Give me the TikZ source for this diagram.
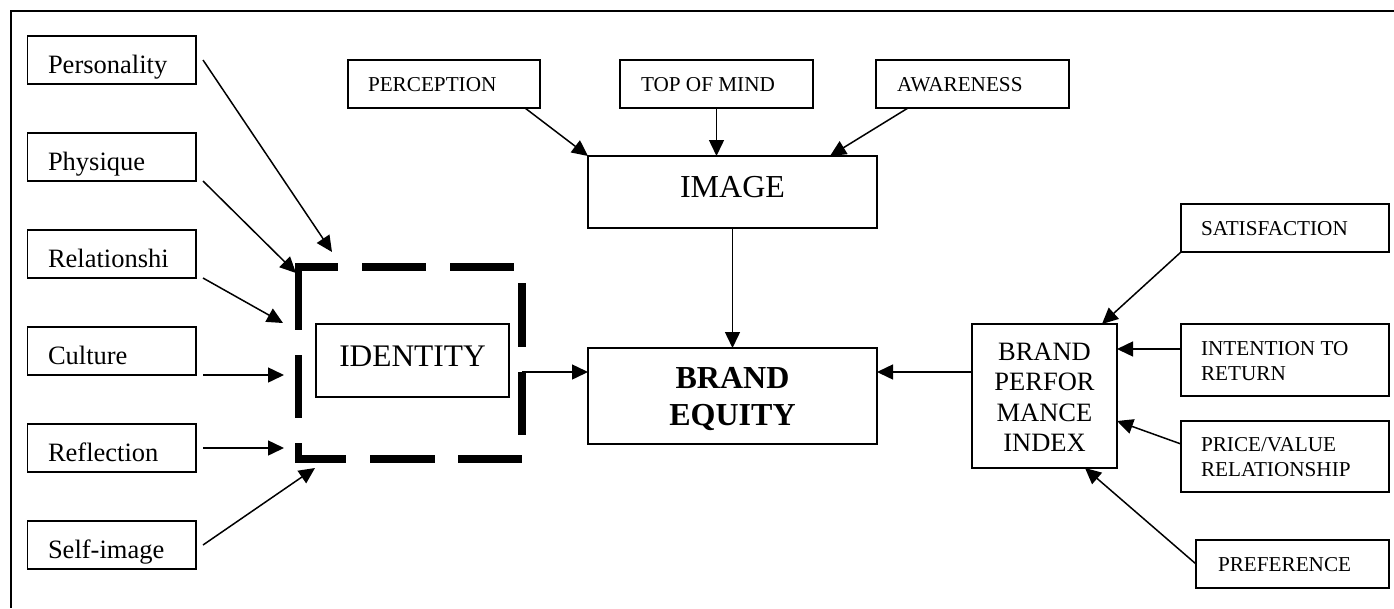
\documentclass[tikz,border=0pt]{standalone}
\usepackage{fontspec}
\setmainfont{Liberation Serif}
\usetikzlibrary{arrows.meta}
\begin{document}
\begin{tikzpicture}[x=1pt,y=-1pt,
  box/.style={draw,line width=1.5pt,inner sep=0pt,outer sep=0pt,anchor=north west},
  lbl/.style={inner sep=0pt,outer sep=0pt,anchor=base west},
  clbl/.style={inner sep=0pt,outer sep=0pt,anchor=base},
  arr/.style={line width=1.5pt,-{Triangle[length=16pt,width=15pt]}},
  dashseg/.style={line width=7.5pt,line cap=butt},
  fL/.style={font=\fontsize{26.5}{30}\selectfont},
  fS/.style={font=\fontsize{21.2}{25}\selectfont},
  fXL/.style={font=\fontsize{32}{37}\selectfont},
  fXB/.style={font=\fontsize{32}{37}\selectfont\bfseries}]
\useasboundingbox (0,0) rectangle (1394,608);
% outer frame (top and left visible)
\draw[line width=1.5pt] (1394,11) -- (11,11) -- (11,608);

% left boxes
\node[box,minimum width=168.5pt,minimum height=48pt] (pers) at (27.5,36) {};
\node[box,minimum width=168.5pt,minimum height=48pt] (phys) at (27.5,133) {};
\node[box,minimum width=168.5pt,minimum height=48pt] (rel)  at (27.5,230) {};
\node[box,minimum width=168.5pt,minimum height=48pt] (cul)  at (27.5,327) {};
\node[box,minimum width=168.5pt,minimum height=48pt] (refl) at (27.5,424) {};
\node[box,minimum width=168.5pt,minimum height=48pt] (self) at (27.5,521) {};
\node[lbl,fL] (tpers) at (48,73)  {Personality};
\node[lbl,fL] (tphys) at (48,170) {Physique};
\node[lbl,fL] (trel)  at (48,267) {Relationshi};
\node[lbl,fL] (tcul)  at (48,364) {Culture};
\node[lbl,fL] (trefl) at (48,461) {Reflection};
\node[lbl,fL] (tself) at (48,558) {Self-image};

% identity with thick dashed frame
\node[inner sep=0pt,outer sep=0pt,anchor=north west,minimum width=223.5pt,minimum height=192pt] (idbox) at (298.5,267) {};
\draw[dashseg] (295,267) -- (338,267) (362,267) -- (426,267) (450,267) -- (514,267);
\draw[dashseg] (298.5,263) -- (298.5,330) (298.5,355) -- (298.5,418) (298.5,443) -- (298.5,463);
\draw[dashseg] (295,459) -- (346,459) (370,459) -- (434.5,459) (458,459) -- (522,459);
\draw[dashseg] (522,283) -- (522,347) (522,372) -- (522,435);
\node[box,minimum width=193pt,minimum height=73pt] (ident) at (316,324) {};
\node[clbl,font=\fontsize{31.4}{36}\selectfont] (tident) at (412.5,366) {IDENTITY};

% top boxes
\node[box,minimum width=192pt,minimum height=48pt] (perc) at (348,60) {};
\node[box,minimum width=193pt,minimum height=48pt] (topm) at (620,60) {};
\node[box,minimum width=193pt,minimum height=48pt] (aw)   at (876,60) {};
\node[lbl,fS] (tperc) at (368,91) {PERCEPTION};
\node[lbl,fS] (ttopm) at (641,91) {TOP OF MIND};
\node[lbl,fS] (taw)   at (897,91) {AWARENESS};

% image and brand equity
\node[box,minimum width=289pt,minimum height=72pt] (img) at (588,156) {};
\node[clbl,fXL] (timg) at (732.5,197) {IMAGE};
\node[box,minimum width=289pt,minimum height=96pt] (be) at (588,348) {};
\node[clbl,fXB] (tbe1) at (732.5,388) {BRAND};
\node[clbl,fXB] (tbe2) at (732.5,425) {EQUITY};

% brand performance index
\node[box,minimum width=145pt,minimum height=144pt] (bpi) at (972,324) {};
\node[clbl,fL] (tbpi1) at (1044.5,360) {BRAND};
\node[clbl,fL] (tbpi2) at (1044.5,390.5) {PERFOR};
\node[clbl,fL] (tbpi3) at (1044.5,421) {MANCE};
\node[clbl,fL] (tbpi4) at (1044.5,451) {INDEX};

% right boxes
\node[box,minimum width=208pt,minimum height=48pt] (sat)   at (1181,204) {};
\node[box,minimum width=208pt,minimum height=72pt] (intr)  at (1181,324) {};
\node[box,minimum width=208pt,minimum height=71pt] (price) at (1181,421) {};
\node[box,minimum width=193pt,minimum height=48pt] (pref)  at (1196,540) {};
\node[lbl,fS] (tsat)    at (1201,235) {SATISFACTION};
\node[lbl,fS] (tintr1)  at (1201,355) {INTENTION TO};
\node[lbl,fS] (tintr2)  at (1201,380) {RETURN};
\node[lbl,fS] (tprice1) at (1201,451) {PRICE/VALUE};
\node[lbl,fS] (tprice2) at (1201,476) {RELATIONSHIP};
\node[lbl,fS] (tpref)   at (1218,571) {PREFERENCE};

% arrow end points
\coordinate (ePers) at (332,252);
\coordinate (ePhys) at (296,273);
\coordinate (eRel)  at (283,323);
\coordinate (eCul)  at (284,375);
\coordinate (eRefl) at (284,448);
\coordinate (eSelf) at (315,468);
\coordinate (idOut) at (522,372);

% identity inputs
\draw[arr] ([xshift=7pt]pers.east) -- (ePers);
\draw[arr] ([xshift=7pt]phys.south east) -- (ePhys);
\draw[arr] ([xshift=7pt]rel.south east) -- (eRel);
\draw[arr] ([xshift=7pt]cul.south east) -- (eCul);
\draw[arr] ([xshift=7pt]refl.east) -- (eRefl);
\draw[arr] ([xshift=7pt]self.east) -- (eSelf);

% image inputs
\draw[arr] ([xshift=-15pt]perc.south east) -- (img.north west);
\draw[arr] (topm.south) -- (topm.south |- img.north);
\draw[arr] ([xshift=32pt]aw.south west) -- ([xshift=-47pt]img.north east);

% into brand equity
\draw[arr] (img.south) -- (be.north);
\draw[arr] (idOut) -- (idOut -| be.west);
\coordinate (bpiOut) at ([yshift=24pt]bpi.west);
\draw[arr] (bpiOut) -- (bpiOut -| be.east);

% bpi inputs
\draw[arr] (sat.south west) -- ([xshift=-15pt]bpi.north east);
\coordinate (intOut) at ([yshift=11pt]intr.west);
\draw[arr] (intOut) -- (intOut -| bpi.east);
\draw[arr] ([yshift=12.5pt]price.west) -- ([yshift=-25pt]bpi.east);
\draw[arr] (pref.west) -- ([xshift=-32pt]bpi.south east);
\end{tikzpicture}
\end{document}
